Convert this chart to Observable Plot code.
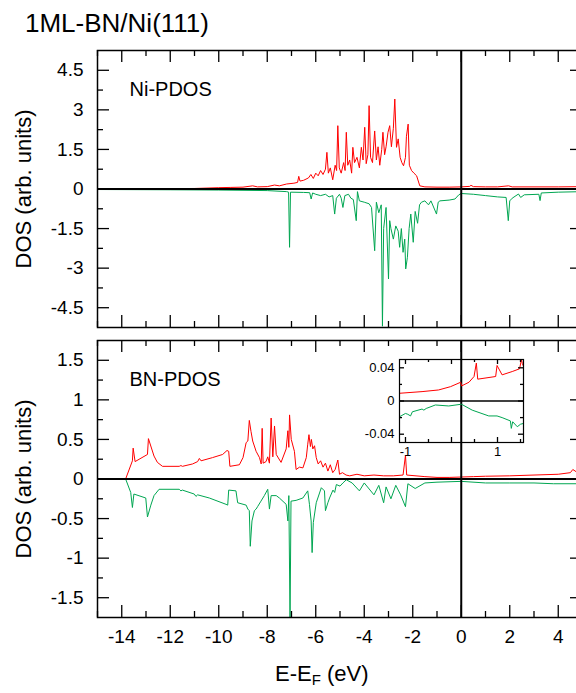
<!DOCTYPE html>
<html><head><meta charset="utf-8">
<script src="https://cdn.jsdelivr.net/npm/d3@7"></script>
<script src="https://cdn.jsdelivr.net/npm/@observablehq/plot@0.6"></script>
<style>
html,body{margin:0;padding:0;overflow:hidden;background:#fff;}
#wrap{position:relative;width:576px;height:693px;overflow:hidden;font-family:"Liberation Sans",Arial,sans-serif;color:#000;}
</style></head><body><div id="wrap"></div>
<script>
// ---------- data ----------
const title = "1ML-BN/Ni(111)";
const niLabel = "Ni-PDOS";
const bnLabel = "BN-PDOS";
const yLabel = "DOS (arb. units)";

const niUpE = [-15,-13,-11,-10,-9.5,-9,-8.6,-8.4,-8,-7.7,-7.5,-7.2,-6.9,-6.75,-6.7,-6.65,-6.5,-6.3,-6.2,-6.1,-6.0,-5.9,-5.8,-5.7,-5.6,-5.54,-5.48,-5.4,-5.3,-5.2,-5.14,-5.09,-5.03,-4.95,-4.85,-4.79,-4.74,-4.68,-4.6,-4.52,-4.47,-4.4,-4.3,-4.2,-4.12,-4.05,-3.98,-3.92,-3.85,-3.8,-3.74,-3.66,-3.57,-3.5,-3.43,-3.36,-3.28,-3.23,-3.16,-3.1,-3.02,-2.95,-2.88,-2.8,-2.74,-2.67,-2.6,-2.52,-2.45,-2.38,-2.3,-2.26,-2.19,-2.14,-2.05,-1.95,-1.84,-1.71,-1.5,-1.0,-0.5,0,0.35,0.4,0.5,1.0,1.5,1.95,2.1,3,4,5];
const niUpDos = [0.01,0.01,0.02,0.05,0.06,0.07,0.12,0.08,0.09,0.15,0.12,0.19,0.22,0.25,0.48,0.3,0.33,0.42,0.55,0.4,0.6,0.5,0.7,0.55,0.75,1.39,0.6,0.8,0.35,0.9,0.7,2.4,0.8,0.6,1.0,0.7,2.15,0.9,1.1,0.6,1.58,1.0,1.2,0.8,1.58,1.1,2.34,0.96,1.3,3.16,1.2,1.0,2.2,1.1,1.6,0.9,1.5,2.15,1.3,1.6,2.15,2.4,1.6,2.3,3.41,1.58,1.9,1.2,1.0,0.88,1.2,2.0,2.46,0.9,0.7,0.6,0.5,0.12,0.08,0.07,0.07,0.08,0.1,0.14,0.09,0.08,0.08,0.12,0.08,0.08,0.08,0.09];

const niDnE = [-15,-12,-10,-8,-7.2,-7.12,-7.08,-7.04,-6.5,-6.25,-6.19,-6.13,-6.0,-5.8,-5.6,-5.45,-5.3,-5.22,-5.15,-5.02,-4.95,-4.88,-4.8,-4.65,-4.55,-4.45,-4.33,-4.28,-4.2,-4.0,-3.8,-3.7,-3.57,-3.5,-3.4,-3.3,-3.25,-3.2,-3.1,-3.0,-2.95,-2.9,-2.8,-2.7,-2.6,-2.54,-2.47,-2.4,-2.33,-2.29,-2.22,-2.15,-2.08,-1.98,-1.9,-1.8,-1.72,-1.64,-1.5,-1.35,-1.25,-1.02,-0.95,-0.88,-0.5,-0.26,-0.1,0,0.5,1.0,1.5,1.85,1.94,2.0,2.1,2.36,2.45,2.6,3.2,3.25,3.3,4.0,5];
const niDnDos = [-0.02,-0.03,-0.04,-0.06,-0.1,-0.12,-2.21,-0.12,-0.13,-0.14,-0.38,-0.15,-0.2,-0.25,-0.2,-0.3,-0.25,-0.95,-0.35,-0.2,-0.35,-0.7,-0.25,-0.2,-0.35,-0.4,-1.2,-0.1,-0.45,-0.5,-0.56,-0.7,-2.34,-0.5,-0.9,-0.6,-5.2,-1.5,-0.7,-3.41,-1.2,-1.5,-1.9,-1.4,-1.6,-2.21,-1.5,-2.4,-1.9,-3.03,-2.59,-1.5,-0.95,-2.02,-0.85,-1.3,-0.6,-0.5,-0.45,-0.6,-0.45,-0.95,-0.5,-0.45,-0.42,-0.38,-0.22,-0.17,-0.2,-0.25,-0.3,-0.32,-1.2,-0.45,-0.35,-0.19,-0.32,-0.22,-0.2,-0.44,-0.15,-0.12,-0.1];

const bnUpE = [-13.84,-13.56,-13.53,-13.45,-12.94,-12.9,-12.67,-12.53,-12.32,-11.63,-11.56,-11.5,-11.08,-10.87,-10.8,-10.73,-10.26,-9.84,-9.66,-9.59,-9.54,-9.15,-9.0,-8.87,-8.8,-8.74,-8.67,-8.6,-8.46,-8.32,-8.25,-8.21,-8.17,-8.05,-7.98,-7.91,-7.84,-7.77,-7.7,-7.63,-7.43,-7.22,-7.15,-7.11,-7.08,-7.01,-6.88,-6.81,-6.67,-6.53,-6.39,-6.33,-6.28,-6.22,-6.18,-6.12,-6.05,-5.98,-5.9,-5.8,-5.7,-5.6,-5.5,-5.4,-5.3,-5.2,-5.09,-5.02,-4.9,-4.75,-4.6,-4.3,-4.0,-3.6,-3.2,-2.8,-2.4,-2.3,-2.25,-1.5,-1.0,-0.5,0,0.5,1.0,2.0,3.0,4.0,4.5,4.6,4.75,5];
const bnUpDos = [0,0.23,0.39,0.22,0.31,0.51,0.29,0.21,0.16,0.16,0.17,0.16,0.19,0.22,0.26,0.23,0.27,0.31,0.36,0.35,0.16,0.18,0.27,0.46,0.48,0.74,0.6,0.48,0.35,0.27,0.19,0.64,0.2,0.22,0.28,0.2,0.77,0.28,0.67,0.31,0.21,0.38,0.61,0.4,0.81,0.5,0.35,0.12,0.15,0.14,0.27,0.44,0.56,0.41,0.5,0.38,0.42,0.27,0.19,0.23,0.15,0.2,0.1,0.18,0.08,0.12,0.24,0.06,0.08,0.05,0.04,0.06,0.04,0.05,0.04,0.04,0.05,0.3,0.05,0.03,0.02,0.02,0.025,0.03,0.035,0.04,0.05,0.06,0.08,0.12,0.09,0.09];

const bnDnE = [-13.84,-13.63,-13.56,-13.5,-13.01,-12.94,-12.8,-12.67,-12.46,-11.63,-11.56,-11.5,-11.01,-10.94,-10.87,-10.39,-9.7,-9.63,-9.59,-9.29,-9.22,-8.87,-8.8,-8.74,-8.7,-8.63,-8.53,-8.46,-8.4,-8.26,-8.12,-7.98,-7.91,-7.84,-7.63,-7.5,-7.22,-7.15,-7.11,-7.06,-7.02,-6.81,-6.53,-6.33,-6.26,-6.19,-6.15,-6.1,-5.98,-5.77,-5.64,-5.6,-5.5,-5.43,-5.29,-5.22,-5.15,-5.0,-4.88,-4.74,-4.5,-4.2,-4.0,-3.6,-3.4,-3.2,-3.1,-2.9,-2.7,-2.5,-2.3,-2.2,-1.9,-1.5,-1.0,0,1,2,3,3.8,5];
const bnDnDos = [0,-0.17,-0.36,-0.19,-0.24,-0.48,-0.33,-0.21,-0.13,-0.13,-0.15,-0.14,-0.19,-0.22,-0.2,-0.24,-0.32,-0.33,-0.14,-0.15,-0.3,-0.33,-0.38,-0.4,-0.85,-0.53,-0.4,-0.38,-0.35,-0.28,-0.21,-0.13,-0.38,-0.21,-0.21,-0.24,-0.32,-0.53,-0.21,-1.8,-0.28,-0.27,-0.24,-0.15,-0.32,-0.53,-0.93,-0.55,-0.3,-0.11,-0.15,-0.4,-0.3,-0.24,-0.14,-0.17,-0.07,-0.09,-0.05,-0.01,-0.05,-0.15,-0.05,-0.2,-0.08,-0.3,-0.1,-0.25,-0.08,-0.2,-0.35,-0.06,-0.12,-0.05,-0.04,-0.03,-0.05,-0.05,-0.05,-0.06,-0.06];

const insetUpE = [-1.13,-0.64,-0.28,-0.02,0.2,0.22,0.38,0.49,0.54,0.57,0.96,0.99,1.1,1.32,1.48,1.52,1.54,1.565];
const insetUpDos = [0.0093,0.0113,0.0133,0.0173,0.0226,0.0182,0.0226,0.0295,0.0457,0.0263,0.0295,0.0428,0.0315,0.0355,0.0388,0.05,0.045,0.042];
const insetDnE = [-1.13,-1.0,-0.95,-0.89,-0.85,-0.64,-0.6,-0.55,-0.35,-0.06,0.2,0.22,0.45,0.81,0.99,1.1,1.28,1.3,1.33,1.43,1.5,1.565];
const insetDnDos = [-0.019,-0.015,-0.016,-0.018,-0.013,-0.0097,-0.011,-0.009,-0.0048,-0.006,-0.004,-0.004,-0.011,-0.018,-0.018,-0.02,-0.024,-0.033,-0.025,-0.031,-0.028,-0.027];

const xMajor = [-14,-12,-10,-8,-6,-4,-2,0,2,4];
const xMinor = [-15,-13,-11,-9,-7,-5,-3,-1,1,3];
const niYMajor = [-4.5,-3,-1.5,0,1.5,3,4.5];
const niYMinor = [-3.75,-2.25,-0.75,0.75,2.25,3.75];
const bnYMajor = [-1.5,-1,-0.5,0,0.5,1,1.5];
const bnYMinor = [-1.25,-0.75,-0.25,0.25,0.75,1.25];
const insetXMajor = [-1,0,1];
const insetXMinor = [-0.5,0.5,1.5];
const insetXLabels = [-1,1];
const insetYMajor = [-0.04,0,0.04];
const insetYMinor = [-0.02,0.02];

// ---------- drawing ----------
const FONT = '"Liberation Sans", Arial, sans-serif';
const RED = "#ff0000", GREEN = "#00a651";
const wrap = document.getElementById("wrap");
function place(el, left, top) { el.style.position = "absolute"; el.style.left = left + "px"; el.style.top = top + "px"; wrap.appendChild(el); return el; }
const zip = (E, V) => E.map((e, i) => ({e, v: V[i]}));

function ticks(xs, ys, fw, fh, L, S, xMin, yMin) {
  const st = {stroke: "black", strokeWidth: 1.3};
  return [
    Plot.ruleX(xs, {...st, insetTop: fh - L}),
    Plot.ruleX(xs, {...st, insetBottom: fh - L}),
    Plot.ruleX(xMin, {...st, insetTop: fh - S}),
    Plot.ruleX(xMin, {...st, insetBottom: fh - S}),
    Plot.ruleY(ys, {...st, insetRight: fw - L}),
    Plot.ruleY(ys, {...st, insetLeft: fw - L}),
    Plot.ruleY(yMin, {...st, insetRight: fw - S}),
    Plot.ruleY(yMin, {...st, insetLeft: fw - S})
  ];
}

function panel({yDomain, yMajor, yMinor, up, dn, label, showX, marginBottom}) {
  const mt = 2, fh = 277, ml = 97, mr = 2, W = 584, fw = W - ml - mr;
  const marks = [
    Plot.line(zip(up[0], up[1]), {x: "e", y: "v", stroke: RED, strokeWidth: 1, clip: true}),
    Plot.line(zip(dn[0], dn[1]), {x: "e", y: "v", stroke: GREEN, strokeWidth: 1, clip: true}),
    Plot.ruleY([0], {stroke: "black", strokeWidth: 2}),
    Plot.ruleX([0], {stroke: "black", strokeWidth: 2}),
    ...ticks(xMajor, yMajor, fw, fh, 12, 6, xMinor, yMinor),
    Plot.frame({stroke: "black", strokeWidth: 1.5}),
    Plot.axisY({ticks: yMajor, tickSize: 0, tickPadding: 14, tickFormat: d => String(d), fontSize: 19, label: null}),
    Plot.text([yLabel], {text: d => d, frameAnchor: "left", dx: -74, rotate: -90, fontSize: 22, textAnchor: "middle", lineAnchor: "middle"}),
    Plot.text([label], {text: d => d, frameAnchor: "top-left", dx: 32, dy: 39, textAnchor: "start", lineAnchor: "middle", fontSize: 20})
  ];
  if (showX) marks.push(Plot.axisX({ticks: xMajor, tickSize: 0, tickPadding: 12, tickFormat: d => String(d), fontSize: 19, label: null}));
  return Plot.plot({
    width: W, height: mt + fh + marginBottom,
    marginLeft: ml, marginRight: mr, marginTop: mt, marginBottom,
    style: {fontFamily: FONT, fontSize: "19px", background: "transparent", maxWidth: "none", overflow: "visible", color: "black"},
    x: {domain: [-15, 5], axis: null},
    y: {domain: yDomain, axis: null},
    marks
  });
}

// title
const t = document.createElement("div");
t.textContent = title;
t.style.cssText = "font-size:26px;line-height:26px;white-space:nowrap;";
place(t, 25, 10);

place(panel({yDomain: [-5.25, 5.25], yMajor: niYMajor, yMinor: niYMinor, up: [niUpE, niUpDos], dn: [niDnE, niDnDos], label: niLabel, showX: false, marginBottom: 2}), 0, 48);
place(panel({yDomain: [-1.75, 1.75], yMajor: bnYMajor, yMinor: bnYMinor, up: [bnUpE, bnUpDos], dn: [bnDnE, bnDnDos], label: bnLabel, showX: true, marginBottom: 40}), 0, 338);

// inset
{
  const ml = 40, mr = 2, mt = 2, mb = 20, fw = 124, fh = 83;
  const inset = Plot.plot({
    width: ml + fw + mr, height: mt + fh + mb,
    marginLeft: ml, marginRight: mr, marginTop: mt, marginBottom: mb,
    style: {fontFamily: FONT, fontSize: "13px", background: "transparent", maxWidth: "none", overflow: "visible", color: "black"},
    x: {domain: [-1.13, 1.565], axis: null},
    y: {domain: [-0.05, 0.05], axis: null},
    marks: [
      Plot.line(zip(insetUpE, insetUpDos), {x: "e", y: "v", stroke: RED, strokeWidth: 1, clip: true}),
      Plot.line(zip(insetDnE, insetDnDos), {x: "e", y: "v", stroke: GREEN, strokeWidth: 1, clip: true}),
      Plot.ruleY([0], {stroke: "black", strokeWidth: 1.5}),
      ...ticks(insetXMajor, insetYMajor, fw, fh, 5, 3, insetXMinor, insetYMinor),
      Plot.frame({stroke: "black", strokeWidth: 1.2}),
      Plot.axisY({ticks: insetYMajor, tickSize: 0, tickPadding: 5, tickFormat: d => String(d), fontSize: 13, label: null}),
      Plot.axisX({ticks: insetXLabels, tickSize: 0, tickPadding: 4, tickFormat: d => String(d), fontSize: 13, label: null})
    ]
  });
  place(inset, 359, 357);
}

// x label
const xl = document.createElement("div");
xl.innerHTML = 'E-E<span style="font-size:15px;position:relative;top:4px;">F</span> (eV)';
xl.style.cssText = "font-size:22px;line-height:22px;white-space:nowrap;";
place(xl, 275, 663);
</script></body></html>
